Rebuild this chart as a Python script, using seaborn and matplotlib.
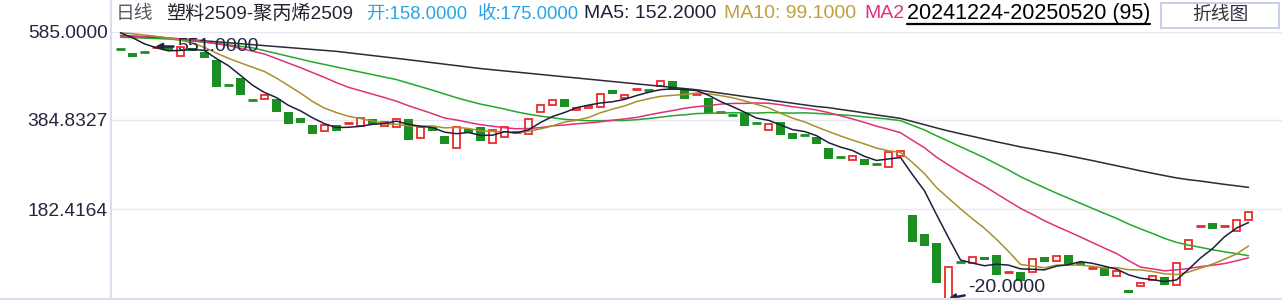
import numpy as np
import pandas as pd
import matplotlib
matplotlib.use("Agg")
import matplotlib.pyplot as plt
import seaborn as sns
from matplotlib.lines import Line2D
from matplotlib.patches import Rectangle

# ---------------- data ----------------
title_name = "塑料2509-聚丙烯2509"
period_label = "日线"
range_label = "20241224-20250520 (95)"
button_label = "折线图"

opens = [545, 536, 540, 551, 550, 529, 548, 539, 521, 464,
         480, 431, 432, 432, 403, 390, 374, 359, 374, 378,
         371, 386, 372, 369, 387, 344, 368, 349, 321, 364,
         368, 333, 347, 358, 353, 403, 419, 432, 407, 411,
         414, 453, 435, 455, 454, 461, 473, 452, 444, 435,
         402, 396, 400, 378, 362, 381, 356, 350, 347, 322,
         300, 294, 297, 285, 279, 302, 169, 126, 106, -20,
         63, 60, 74, 79, 40, 39, 41, 74, 65, 79,
         62, 49, 52, 31, 0, 8, 23, 29, 10, 92,
         145, 151, 144, 132, 158]
closes = [544, 528, 539, 551, 544, 549, 541, 524, 460, 463,
          440, 430, 441, 402, 375, 378, 352, 373, 359, 378,
          389, 375, 381, 387, 340, 369, 360, 329, 369, 354,
          336, 362, 369, 357, 387, 419, 430, 414, 412, 416,
          443, 444, 441, 455, 453, 473, 453, 433, 444, 400,
          402, 395, 370, 377, 375, 350, 341, 349, 330, 296,
          299, 303, 282, 284, 313, 315, 109, 98, 16, 51,
          62, 74, 68, 34, 40, 20, 69, 62, 76, 56,
          55, 49, 30, 43, -8, 16, 32, 10, 60, 112,
          145, 138, 144, 159, 175]

# moving-average values before a full window is available
ma5_head_idx = [0, 1, 2, 3]
ma5_head = [582, 571, 557, 548]
ma10_head_idx = [0, 1, 2, 3, 4, 5, 6, 7, 8]
ma10_head = [582, 580, 577, 574, 570, 565, 559, 549, 536]
ma20_head_idx = [0, 3, 6, 9, 12, 15, 17, 18]
ma20_head = [575, 573, 566, 553, 534, 503, 481, 469]
ma30_head_idx = [0, 4, 8, 11, 16, 20, 23, 26, 28]
ma30_head = [572, 568, 558, 548, 516, 493, 476, 452, 435]
ma60_head_idx = [0, 6, 12, 18, 24, 30, 36, 42, 48, 54, 58]
ma60_head = [576, 566, 553, 540, 521, 501, 485, 469, 453, 430, 415]

ytick_values = [182.4164, 384.8327, 585.0000]
y_low, y_high = -20.0, 585.0
max_value = 551.0
max_label, min_label = "551.0000", "-20.0000"
hdr_open, hdr_close = "开:158.0000", "收:175.0000"
hdr_ma5, hdr_ma10, hdr_ma20 = "MA5: 152.2000", "MA10: 99.1000", "MA2"

# ---------------- style ----------------
sns.set_theme(style="white")
plt.rcParams["font.family"] = ["Liberation Sans", "Noto Sans CJK SC", "DejaVu Sans"]

RED = "#ec2a2d"
GREEN = "#1b8f24"
C_MA5 = "#1e1e3c"
C_MA10 = "#a88f2c"
C_MA20 = "#e0307c"
C_MA30 = "#22a82a"
C_MA60 = "#2a2a38"
FRAME = "#dcdcee"
GRID = "#e8e8f2"
TXT = "#252540"

W, H = 1282, 300
fig = plt.figure(figsize=(W / 100, H / 100), dpi=100)
fig.patch.set_facecolor("white")

def fx(px):
    return px / W

def fy(py):
    return 1 - py / H

ax_left, ax_right, ax_top, ax_bot = 111, 1282, 31.5, 298.5
ax = fig.add_axes([fx(ax_left), fy(ax_bot), (ax_right - ax_left) / W, (ax_bot - ax_top) / H])
ax.set_facecolor("white")
ax.patch.set_alpha(0)

n = len(closes)
idx = np.arange(n)
o = np.array(opens, float)
c = np.array(closes, float)

df = pd.DataFrame({"i": idx, "open": o, "close": c})
df["lo"] = df[["open", "close"]].min(axis=1)
df["h"] = (df["close"] - df["open"]).abs()
df["up"] = df["close"] >= df["open"]
flat = df["h"] <= 1.0

# candles
body_up = df[df["up"] & ~flat]
body_dn = df[~df["up"] & ~flat]
ax.bar(body_dn["i"], body_dn["h"], bottom=body_dn["lo"], width=0.75,
       color=GREEN, linewidth=0, zorder=2)
ax.bar(body_up["i"], body_up["h"], bottom=body_up["lo"], width=0.64,
       facecolor="white", edgecolor=RED, linewidth=1.3, zorder=2)
fl = df[flat]
mid = (fl["open"] + fl["close"]) / 2
ax.hlines(mid[fl["up"]], fl["i"][fl["up"]] - 0.37, fl["i"][fl["up"]] + 0.37,
          color=RED, linewidth=2.0, zorder=2)
ax.hlines(mid[~fl["up"]], fl["i"][~fl["up"]] - 0.37, fl["i"][~fl["up"]] + 0.37,
          color=GREEN, linewidth=2.0, zorder=2)

# moving averages
def ma_series(win, head_idx, head_vals):
    roll = pd.Series(c).rolling(win).mean()
    xs = list(head_idx) + list(range(win - 1, n))
    ys = list(head_vals) + list(roll.iloc[win - 1:])
    return pd.DataFrame({"x": xs, "y": ys})

for win, hi, hv, col in [(60, ma60_head_idx, ma60_head, C_MA60),
                         (30, ma30_head_idx, ma30_head, C_MA30),
                         (20, ma20_head_idx, ma20_head, C_MA20),
                         (10, ma10_head_idx, ma10_head, C_MA10),
                         (5, ma5_head_idx, ma5_head, C_MA5)]:
    d = ma_series(win, hi, hv)
    sns.lineplot(data=d, x="x", y="y", ax=ax, color=col, linewidth=1.1,
                 estimator=None, sort=False, zorder=3)

# max / min markers
imax = int(np.argmax(np.maximum(o, c)))
imin = int(np.argmin(np.minimum(o, c)))
ax.annotate(max_label, xy=(imax - 0.1, max_value), xytext=(15.5, 0), textcoords="offset points",
            ha="left", va="center", fontsize=14, color=TXT, zorder=6,
            arrowprops=dict(arrowstyle="-|>", color=TXT, lw=1.8, mutation_scale=9,
                            shrinkA=0, shrinkB=0))
ax.annotate(min_label, xy=(imin, y_low), xytext=(14, 8), textcoords="offset points",
            ha="left", va="center", fontsize=14, color=TXT, zorder=6,
            arrowprops=dict(arrowstyle="-|>", color=TXT, lw=1.8, mutation_scale=9,
                            shrinkA=0, shrinkB=0))

# axes
ax.set_xlim(-0.79, 96.79)
ax.set_ylim(y_low, y_high)
ax.set_xticks([])
ax.set_yticks(ytick_values)
ax.set_yticklabels([f"{v:.4f}" for v in ytick_values], fontsize=13.8, color=TXT)
ax.tick_params(axis="y", length=0, pad=2.2)
ax.grid(False)
for v in ytick_values:
    ax.axhline(v, color=GRID, linewidth=1.0, zorder=0)
for s in ax.spines.values():
    s.set_visible(False)
ax.set_xlabel("")
ax.set_ylabel("")

# frame lines (left edge full height, bottom full width)
fig.add_artist(Line2D([fx(111), fx(111)], [fy(0), fy(298.5)], transform=fig.transFigure,
                      color=FRAME, linewidth=1.6))
fig.add_artist(Line2D([0, 1], [fy(298.5), fy(298.5)], transform=fig.transFigure,
                      color=FRAME, linewidth=1.6))

# header
hy = fy(14)
fig.text(fx(115.5), hy, period_label, color="#5a5a66", fontsize=13.5, va="center", ha="left")
fig.text(fx(166.5), hy, title_name, color="#222230", fontsize=13.8, va="center", ha="left")
fig.text(fx(366), hy, hdr_open, color="#2aa2e6", fontsize=13.3, va="center", ha="left")
fig.text(fx(477.5), hy, hdr_close, color="#2aa2e6", fontsize=13.3, va="center", ha="left")
fig.text(fx(583.7), hy, hdr_ma5, color=C_MA5, fontsize=14, va="center", ha="left")
fig.text(fx(724), hy, hdr_ma10, color="#c0a03c", fontsize=14, va="center", ha="left")
fig.text(fx(864), hy, hdr_ma20, color=C_MA20, fontsize=14, va="center", ha="left")
t_range = fig.text(fx(907), hy, range_label, color="#000000", fontsize=15.5,
                   va="center", ha="left")

# button
fig.add_artist(Rectangle((fx(1161), fy(28)), fx(1279) - fx(1161), fy(3) - fy(28),
                         transform=fig.transFigure, facecolor="white",
                         edgecolor="#c8d0ea", linewidth=1.4))
fig.text(fx(1220), fy(15), button_label, color="#333340", fontsize=13.5,
         va="center", ha="center")

# underline for the date range
fig.canvas.draw()
bb = t_range.get_window_extent()
uy = bb.y0 + 0.5
fig.add_artist(Line2D([bb.x0 / W, bb.x1 / W], [uy / H, uy / H], transform=fig.transFigure,
                      color="#000000", linewidth=1.6))

fig.savefig("out.png", dpi=100, facecolor="white")
